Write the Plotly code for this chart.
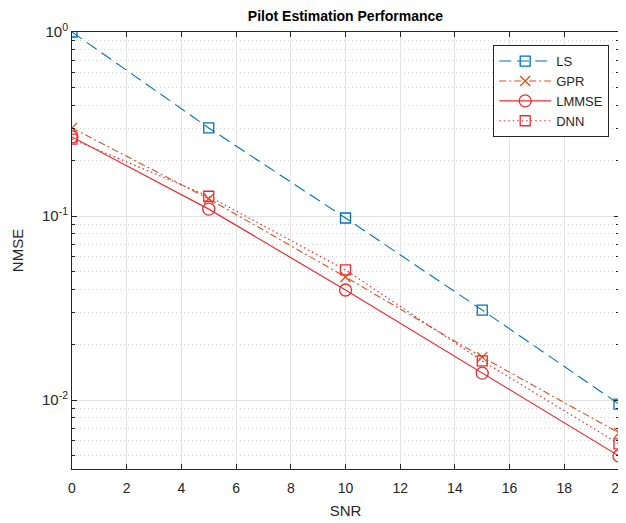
import plotly.graph_objects as go

snr = [0, 5, 10, 15, 20]
ls_nmse = [1.0, 0.301, 0.0975, 0.0308, 0.0095]
gpr_nmse = [0.301, 0.124, 0.0466, 0.0171, 0.00662]
lmmse_nmse = [0.269, 0.109, 0.0396, 0.0140, 0.00496]
dnn_nmse = [0.262, 0.128, 0.0509, 0.0163, 0.00577]

x_ticks = [0, 2, 4, 6, 8, 10, 12, 14, 16, 18, 20]
y_ticks = [0.01, 0.1, 1]
y_ticktext = ["10<sup>-2</sup>", "10<sup>-1</sup>", "10<sup>0</sup>"]
y_minor = [m * d for d in [0.001, 0.01, 0.1] for m in range(2, 10)]

BLUE = "#0072BD"
ORANGE = "#D95319"
RED = "#EE2A30"
FONT = "Liberation Sans, Arial, sans-serif"
TXT = "#262626"

fig = go.Figure()
fig.add_trace(go.Scatter(x=snr, y=ls_nmse, name="LS", mode="lines+markers",
                         line=dict(color=BLUE, width=1.1, dash="12px,6px"),
                         marker=dict(symbol="square-open", size=10, color=BLUE, line=dict(width=1.3))))
fig.add_trace(go.Scatter(x=snr, y=gpr_nmse, name="GPR", mode="lines+markers",
                         line=dict(color=ORANGE, width=1.1, dash="7px,3px,2px,3px"),
                         marker=dict(symbol="x-thin-open", size=10, color=ORANGE, line=dict(width=1.3, color=ORANGE))))
fig.add_trace(go.Scatter(x=snr, y=lmmse_nmse, name="LMMSE", mode="lines+markers",
                         line=dict(color=RED, width=1.2),
                         marker=dict(symbol="circle-open", size=12, color=RED, line=dict(width=1.3))))
fig.add_trace(go.Scatter(x=snr, y=dnn_nmse, name="DNN", mode="lines+markers",
                         line=dict(color=RED, width=1.2, dash="1.5px,3px"),
                         marker=dict(symbol="square-open", size=10, color=RED, line=dict(width=1.3))))

fig.update_layout(
    width=626, height=523,
    margin=dict(l=64, r=15, t=24, b=62),
    paper_bgcolor="white", plot_bgcolor="white",
    title=dict(text="<b>Pilot Estimation Performance</b>", x=0.5, xref="paper", xanchor="center",
               y=0.985, yref="container", yanchor="middle",
               font=dict(family=FONT, size=14, color="black")),
    font=dict(family=FONT, size=14, color=TXT),
    legend=dict(x=0.77, y=0.97, xanchor="left", yanchor="top", bgcolor="white",
                bordercolor=TXT, borderwidth=1,
                font=dict(family=FONT, size=13, color=TXT),
                tracegroupgap=0, itemwidth=52),
    showlegend=True,
)
fig.update_xaxes(range=[0, 20], tickvals=x_ticks, showline=True, linecolor=TXT, linewidth=1,
                 mirror="ticks", ticks="inside", ticklen=5, tickcolor=TXT,
                 showgrid=True, gridcolor="#E3E3E3", gridwidth=1, zeroline=False,
                 automargin=False,
                 tickfont=dict(size=14), ticklabeloverflow="allow", ticklabelstandoff=6,
                 title=dict(text="SNR", standoff=10, font=dict(size=15, color=TXT)))
fig.update_yaxes(type="log", range=[-2.375, 0], tickvals=y_ticks, ticktext=y_ticktext,
                 showline=True, linecolor=TXT, linewidth=1, mirror="ticks",
                 ticks="inside", ticklen=5, tickcolor=TXT,
                 showgrid=True, gridcolor="#E3E3E3", gridwidth=1, zeroline=False,
                 automargin=False,
                 tickfont=dict(size=15),
                 minor=dict(tickvals=y_minor, ticks="inside", ticklen=3, tickcolor=TXT,
                            showgrid=True, gridcolor="#D4D4D4", griddash="1px,3px", gridwidth=1),
                 title=dict(text="NMSE", standoff=14, font=dict(size=15, color=TXT)))

fig.write_html("out.html")
